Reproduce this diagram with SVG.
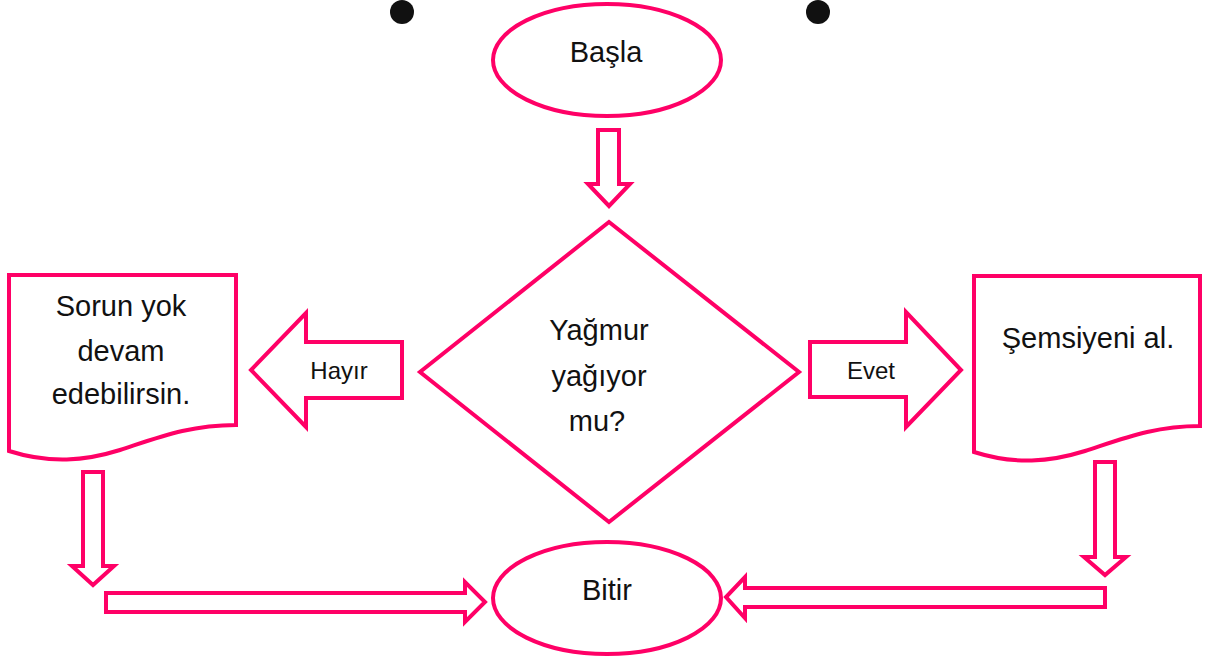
<svg xmlns="http://www.w3.org/2000/svg" width="1206" height="659" viewBox="0 0 1206 659">
<style>
.sh{fill:#fff;stroke:#ff0066;stroke-width:4;stroke-linejoin:miter}
.ar{fill:#fff;stroke:#ff0066;stroke-width:4;stroke-linejoin:miter}
.t{font-family:"Liberation Sans",Arial,sans-serif;font-size:29px;fill:#111;text-anchor:middle}
.s{font-family:"Liberation Sans",Arial,sans-serif;font-size:24px;fill:#111;text-anchor:middle}
</style>
<rect width="1206" height="659" fill="#fff"/>
<circle cx="402" cy="12" r="12" fill="#111"/>
<circle cx="818" cy="12" r="12" fill="#111"/>
<g id="connectors">
<polygon class="ar" points="598,130 619,130 619,184 630,184 609,206 588,184 598,184"/>
<polygon class="ar" points="83,472 103,472 103,566 114,566 93,585 72,566 83,566"/>
<polygon class="ar" points="106,593 465,593 465,582 485,602 465,622 465,612 106,612"/>
<polygon class="ar" points="1095,462 1115,462 1115,557 1126,557 1105,575 1084,557 1095,557"/>
<polygon class="ar" points="1105,588 745,588 745,577 726,597 745,618 745,607 1105,607"/>
</g>
<g id="start">
<ellipse class="sh" cx="607" cy="60" rx="114" ry="56"/>
<text class="t" x="606" y="62">Başla</text>
</g>
<g id="decision">
<polygon class="sh" points="609,222 799,372 609,522 420,372"/>
<text class="t" x="599" y="340">Yağmur</text>
<text class="t" x="599" y="386">yağıyor</text>
<text class="t" x="597" y="431">mu?</text>
</g>
<g id="no">
<polygon class="ar" points="402,342 306,342 306,313 251,370 306,427 306,398 402,398"/>
<text class="s" x="339" y="379">Hayır</text>
</g>
<g id="yes">
<polygon class="ar" points="810,342 906,342 906,312 961,370 906,427 906,397 810,397"/>
<text class="s" x="871" y="379">Evet</text>
</g>
<g id="doc-left">
<path class="sh" d="M9,275 H236 V425 C190,425 160,437 120,450 C85,461 50,464 9,451 Z"/>
<text class="t" x="121" y="316">Sorun yok</text>
<text class="t" x="121" y="361">devam</text>
<text class="t" x="121" y="404">edebilirsin.</text>
</g>
<g id="doc-right">
<path class="sh" d="M974,276 H1200 V426 C1155,426 1125,438 1085,451 C1050,462 1015,465 974,452 Z"/>
<text class="t" x="1088" y="348">Şemsiyeni al.</text>
</g>
<g id="end">
<ellipse class="sh" cx="607" cy="598" rx="114" ry="56"/>
<text class="t" x="607" y="600">Bitir</text>
</g>
</svg>
